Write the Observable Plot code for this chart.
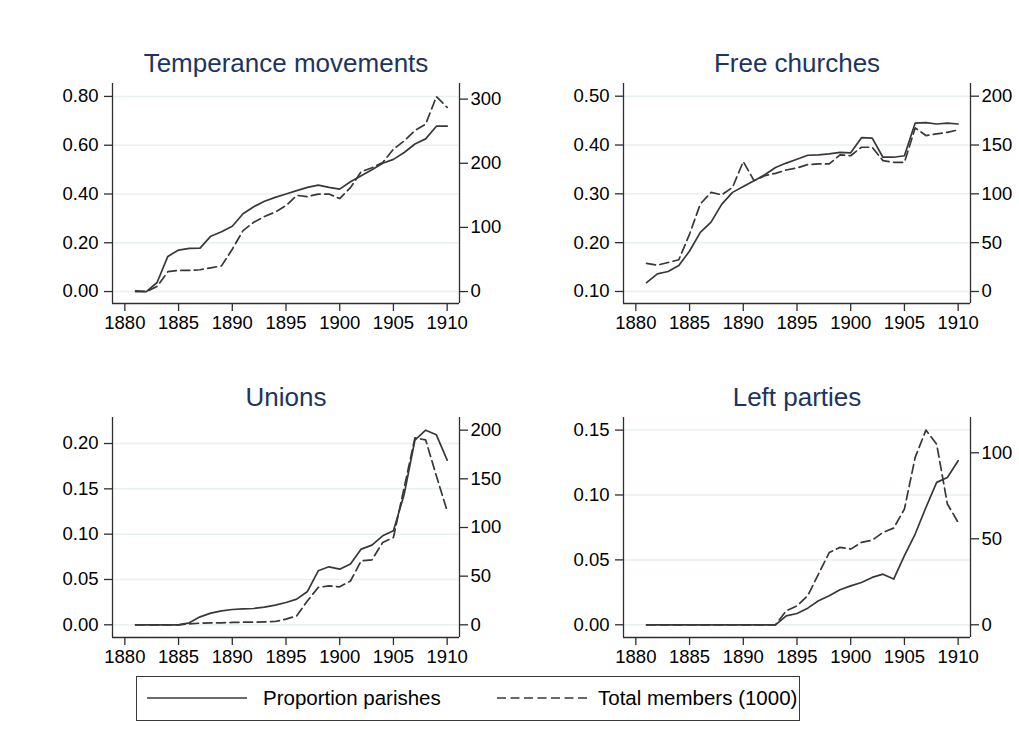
<!DOCTYPE html>
<html>
<head>
<meta charset="utf-8">
<script src="https://cdn.jsdelivr.net/npm/d3@7"></script>
<script src="https://cdn.jsdelivr.net/npm/@observablehq/plot@0.6"></script>
<style>
  body { margin: 0; background: #ffffff; font-family: "Liberation Sans", Arial, sans-serif; }
  #root { position: relative; width: 1019px; height: 751px; background: #ffffff; overflow: hidden; }
  .panel { position: absolute; }
  #legend { position: absolute; box-sizing: border-box; border: 1.6px solid #3a3a3a; background: #fff; }
  #legend .lab { position: absolute; font-size: 20.5px; color: #000; white-space: nowrap; line-height: 1; }
  #legend svg { position: absolute; overflow: visible; }
</style>
</head>
<body>
<div id="root"></div>
<script>
// ---- data (1881-1910) ----
const years = [1881,1882,1883,1884,1885,1886,1887,1888,1889,1890,1891,1892,1893,1894,1895,
               1896,1897,1898,1899,1900,1901,1902,1903,1904,1905,1906,1907,1908,1909,1910];

const panelTitles = ["Temperance movements", "Free churches", "Unions", "Left parties"];
const legendLabels = ["Proportion parishes", "Total members (1000)"];
const xTicks = [1880, 1885, 1890, 1895, 1900, 1905, 1910];

// Temperance movements
const temperanceProp = [0.000,0.000,0.037,0.144,0.170,0.177,0.178,0.227,0.245,0.268,0.319,0.348,0.370,0.386,0.400,
                        0.414,0.427,0.436,0.427,0.420,0.450,0.475,0.499,0.526,0.542,0.570,0.605,0.626,0.678,0.678];
const temperanceMem  = [1,0,8,31,33,33,34,37,40,66,95,108,117,124,134,
                        150,148,152,152,145,162,187,193,201,222,235,251,261,304,287];
const temperanceLeftTicks = [0, 0.2, 0.4, 0.6, 0.8];
const temperanceRightTicks = [0, 100, 200, 300];

// Free churches
const freeProp = [0.118,0.136,0.141,0.153,0.183,0.221,0.242,0.279,0.303,0.315,0.327,0.339,0.354,0.363,0.371,
                  0.379,0.380,0.382,0.385,0.384,0.415,0.414,0.375,0.375,0.378,0.445,0.446,0.443,0.445,0.443];
const freeMem  = [28.7,27.0,29.7,32.5,58.8,89.6,101.5,99.0,106.7,133.0,113.5,118.6,121.0,124.4,126.5,
                  130.0,130.6,130.6,140.0,139.0,147.7,147.7,134.0,132.3,132.3,167.5,159.7,161.4,163.0,165.5];
const freeLeftTicks = [0.1, 0.2, 0.3, 0.4, 0.5];
const freeRightTicks = [0, 50, 100, 150, 200];

// Unions
const unionsProp = [0,0,0,0,0,0.0022,0.0088,0.0129,0.0154,0.0169,0.0176,0.0180,0.0195,0.0217,0.0246,
                    0.0283,0.0368,0.0596,0.0640,0.0614,0.0670,0.0835,0.0879,0.0982,0.1037,0.1440,0.2037,0.2147,0.2096,0.1816];
const unionsMem  = [0,0,0,0,0,1.0,1.7,2.0,2.0,2.4,2.7,2.7,3.0,3.4,5.8,
                    9.2,24.7,38.4,40.0,39.0,45.0,65.8,66.8,84.6,89.7,141.0,192.0,190.0,153.0,117.0];
const unionsLeftTicks = [0, 0.05, 0.10, 0.15, 0.20];
const unionsRightTicks = [0, 50, 100, 150, 200];

// Left parties
const leftProp = [0,0,0,0,0,0,0,0,0,0,0,0,0,0.0069,0.0087,
                  0.0128,0.0185,0.0223,0.0270,0.0300,0.0326,0.0365,0.0390,0.0352,0.0532,0.0699,0.0904,0.1097,0.1135,0.1264];
const leftMem  = [0,0,0,0,0,0,0,0,0,0,0,0,0,8.1,11.0,
                  16.9,29.5,42.0,45.0,44.0,47.9,49.2,53.7,56.2,67.3,97.3,113.2,105.0,70.2,59.5];
const leftLeftTicks = [0, 0.05, 0.10, 0.15];
const leftRightTicks = [0, 50, 100];

// ---- styling ----
const FONT = '"Liberation Sans", Arial, Helvetica, sans-serif';
const LINE = "#383838";
const AXIS = "#2e2e2e";
const GRID = "#e8f0f2";
const TITLE = "#1d3461";
const DASH = "9,4.5";
const XDOMAIN = [1878.85, 1911.15];

const root = document.getElementById("root");

function panel(cfg) {
  const {title, prop, mem, yDomain, leftTicks, leftFmt, rightTicks, a, b, left, top} = cfg;
  const toLeft = v => a + b * v;
  const fromLeft = y => (y - a) / b;
  const propData = years.map((x, i) => ({x, y: prop[i]}));
  const memData = years.map((x, i) => ({x, y: toLeft(mem[i])}));
  const chart = Plot.plot({
    width: 507, height: 310,
    marginLeft: 100, marginRight: 60, marginTop: 50, marginBottom: 40,
    x: {domain: XDOMAIN},
    y: {domain: yDomain},
    style: {fontFamily: FONT, background: "transparent", overflow: "visible"},
    marks: [
      Plot.gridY(leftTicks, {stroke: GRID, strokeOpacity: 1, strokeWidth: 1.5}),
      Plot.axisX(xTicks, {tickFormat: "d", tickSize: 8, tickPadding: 4, fontSize: 18.5,
                          label: null, stroke: AXIS, fill: "#000", strokeWidth: 1.3}),
      Plot.axisY(leftTicks, {anchor: "left", tickFormat: leftFmt, tickSize: 8, tickPadding: 6,
                             fontSize: 18.5, label: null, stroke: AXIS, fill: "#000", strokeWidth: 1.3}),
      Plot.axisY(rightTicks.map(toLeft), {anchor: "right", tickFormat: d => String(Math.round(fromLeft(d))),
                             tickSize: 8, tickPadding: 3, fontSize: 18.5, label: null,
                             stroke: AXIS, fill: "#000", strokeWidth: 1.3}),
      // axis lines
      Plot.ruleX([XDOMAIN[0]], {stroke: AXIS, strokeWidth: 1.3}),
      Plot.ruleX([XDOMAIN[1]], {stroke: AXIS, strokeWidth: 1.3}),
      Plot.ruleY([yDomain[0]], {stroke: AXIS, strokeWidth: 1.3}),
      Plot.lineY(memData, {x: "x", y: "y", stroke: LINE, strokeWidth: 1.7, strokeDasharray: DASH}),
      Plot.lineY(propData, {x: "x", y: "y", stroke: LINE, strokeWidth: 1.7}),
      Plot.text([title], {text: d => d, frameAnchor: "top", lineAnchor: "bottom", dy: -12,
                          fontSize: 26, fill: TITLE, fontFamily: FONT})
    ]
  });
  chart.classList.add("panel");
  chart.style.left = left + "px";
  chart.style.top = top + "px";
  root.appendChild(chart);
}

const f2 = d3.format(".2f");

panel({title: panelTitles[0], prop: temperanceProp, mem: temperanceMem,
       yDomain: [-0.049, 0.853], leftTicks: temperanceLeftTicks, leftFmt: f2,
       rightTicks: temperanceRightTicks, a: 0, b: 0.0026297, left: 12, top: 33});
panel({title: panelTitles[1], prop: freeProp, mem: freeMem,
       yDomain: [0.0754, 0.526], leftTicks: freeLeftTicks, leftFmt: f2,
       rightTicks: freeRightTicks, a: 0.1, b: 0.002, left: 523, top: 33});
panel({title: panelTitles[2], prop: unionsProp, mem: unionsMem,
       yDomain: [-0.014, 0.2287], leftTicks: unionsLeftTicks, leftFmt: f2,
       rightTicks: unionsRightTicks, a: 0, b: 0.0010736, left: 12, top: 367});
panel({title: panelTitles[3], prop: leftProp, mem: leftMem,
       yDomain: [-0.0098, 0.1597], leftTicks: leftLeftTicks, leftFmt: f2,
       rightTicks: leftRightTicks, a: 0, b: 0.0013251, left: 523, top: 367});

// ---- legend ----
const lg = document.createElement("div");
lg.id = "legend";
lg.style.left = "136px"; lg.style.top = "676px"; lg.style.width = "664px"; lg.style.height = "45px";
const svgNS = "http://www.w3.org/2000/svg";
function sample(x1, x2, dashed) {
  const s = document.createElementNS(svgNS, "svg");
  s.setAttribute("width", x2 - x1); s.setAttribute("height", 4);
  s.style.left = x1 + "px"; s.style.top = "19px";
  const l = document.createElementNS(svgNS, "line");
  l.setAttribute("x1", 0); l.setAttribute("x2", x2 - x1);
  l.setAttribute("y1", 2); l.setAttribute("y2", 2);
  l.setAttribute("stroke", LINE); l.setAttribute("stroke-width", 1.7);
  if (dashed) l.setAttribute("stroke-dasharray", DASH);
  s.appendChild(l);
  lg.appendChild(s);
}
function label(x, txt) {
  const t = document.createElement("span");
  t.className = "lab"; t.textContent = txt;
  t.style.left = x + "px"; t.style.top = "11px";
  lg.appendChild(t);
}
sample(10, 110, false);
label(126, legendLabels[0]);
sample(360, 452, true);
label(461, legendLabels[1]);
root.appendChild(lg);
</script>
</body>
</html>
